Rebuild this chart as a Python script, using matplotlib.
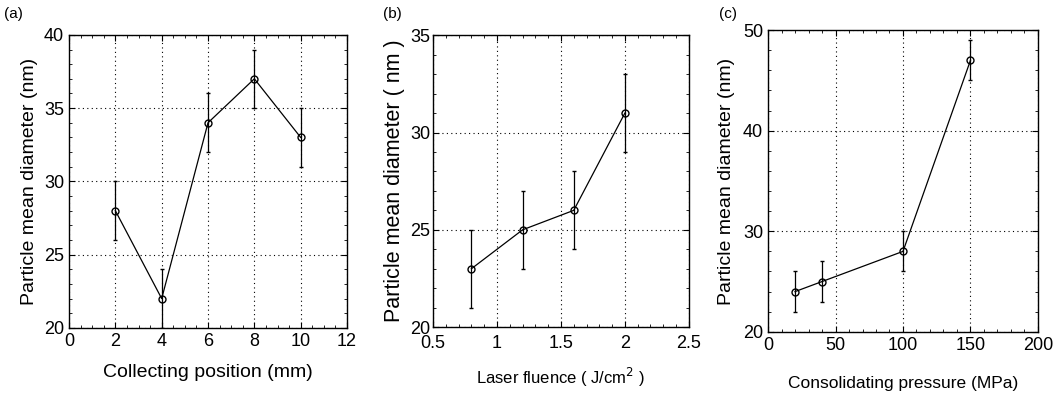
import matplotlib
matplotlib.use("Agg")
import matplotlib.pyplot as plt
from matplotlib.ticker import MultipleLocator, FormatStrFormatter

plt.rcParams['font.family'] = ['Liberation Sans', 'DejaVu Sans']

pos_a = [2, 4, 6, 8, 10]
diam_a = [28, 22, 34, 37, 33]
err_a = [2, 2, 2, 2, 2]

flu_b = [0.8, 1.2, 1.6, 2.0]
diam_b = [23, 25, 26, 31]
err_b = [2, 2, 2, 2]

pres_c = [20, 40, 100, 150]
diam_c = [24, 25, 28, 47]
err_c = [2, 2, 2, 2]

fig = plt.figure(figsize=(10.57, 3.96), dpi=100)
axa = fig.add_axes([0.0653, 0.172, 0.263, 0.740])
axb = fig.add_axes([0.4097, 0.174, 0.242, 0.737])
axc = fig.add_axes([0.7266, 0.162, 0.2554, 0.762])


def style(ax, xmaj, xmin, ymaj, ymin):
    ax.xaxis.set_major_locator(MultipleLocator(xmaj))
    ax.xaxis.set_minor_locator(MultipleLocator(xmin))
    ax.yaxis.set_major_locator(MultipleLocator(ymaj))
    ax.yaxis.set_minor_locator(MultipleLocator(ymin))
    ax.tick_params(which='both', direction='in', top=True, right=True, labelsize=13)
    ax.tick_params(which='major', length=4)
    ax.tick_params(which='minor', length=2)
    ax.grid(True, which='major', linestyle=(0, (1, 3)), color='black', linewidth=0.8)
    for s in ax.spines.values():
        s.set_linewidth(1.0)


kw = dict(color='black', marker='o', markersize=5, markerfacecolor='none',
          markeredgewidth=1.0, linewidth=0.9, elinewidth=0.9, capsize=1.5)

axa.errorbar(pos_a, diam_a, yerr=err_a, **kw)
axa.set_xlim(0, 12)
axa.set_ylim(20, 40)
style(axa, 2, 0.5, 5, 1)
axa.set_xlabel('Collecting position (mm)', fontsize=14, labelpad=10)
axa.set_ylabel('Particle mean diameter (nm)', fontsize=14, labelpad=4)
fig.text(0.004, 0.955, '(a)', fontsize=11)

axb.errorbar(flu_b, diam_b, yerr=err_b, **kw)
axb.set_xlim(0.5, 2.5)
axb.set_ylim(20, 35)
style(axb, 0.5, 0.1, 5, 1)
axb.xaxis.set_major_formatter(FormatStrFormatter('%g'))
axb.tick_params(axis='y', pad=2)
axb.tick_params(axis='x', pad=6)
axb.set_xlabel('Laser fluence ( J/cm$^2$ )', fontsize=12, labelpad=10)
axb.set_ylabel('Particle mean diameter ( nm )', fontsize=15.5, labelpad=4)
fig.text(0.362, 0.955, '(b)', fontsize=11)

axc.errorbar(pres_c, diam_c, yerr=err_c, **kw)
axc.set_xlim(0, 200)
axc.set_ylim(20, 50)
style(axc, 50, 10, 10, 2)
axc.set_xlabel('Consolidating pressure (MPa)', fontsize=12.5, labelpad=16)
axc.set_ylabel('Particle mean diameter (nm)', fontsize=14, labelpad=6)
fig.text(0.68, 0.955, '(c)', fontsize=11)

fig.savefig('out.png', dpi=100)
